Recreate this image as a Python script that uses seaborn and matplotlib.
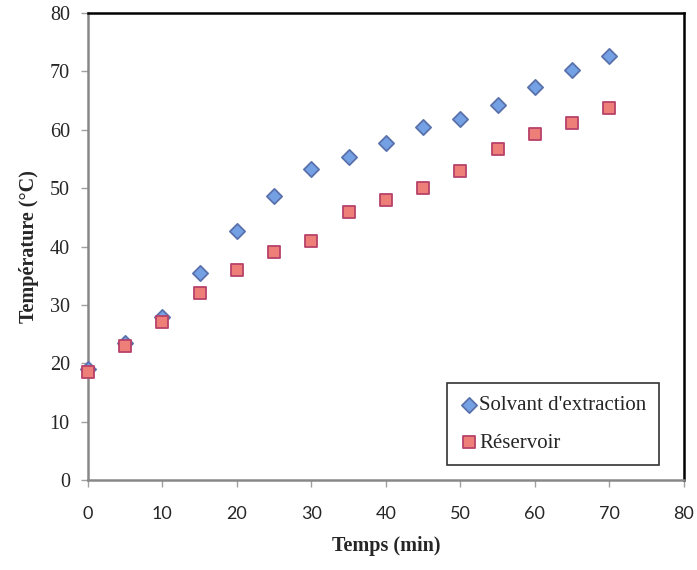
import pandas as pd
import matplotlib.pyplot as plt
import seaborn as sns

# ---------------------------- DATA ----------------------------
temps = [0, 5, 10, 15, 20, 25, 30, 35, 40, 45, 50, 55, 60, 65, 70]
solvant = [19.0, 23.5, 28.0, 35.5, 42.6, 48.6, 53.2, 55.3, 57.8, 60.4, 61.9, 64.3, 67.4, 70.2, 72.6]
reservoir = [18.5, 23.0, 27.0, 32.0, 36.0, 39.0, 41.0, 46.0, 48.0, 50.0, 53.0, 56.7, 59.2, 61.2, 63.7]
series_names = ["Solvant d'extraction", "Réservoir"]
x_ticks = [0, 10, 20, 30, 40, 50, 60, 70, 80]
y_ticks = [0, 10, 20, 30, 40, 50, 60, 70, 80]

df = pd.DataFrame({
    'Temps': temps * 2,
    'Temp': solvant + reservoir,
    'Serie': [series_names[0]] * len(temps) + [series_names[1]] * len(temps),
})

# ---------------------------- PLOT ----------------------------
sns.set_style('white')
plt.rcParams['font.family'] = ['Liberation Serif', 'DejaVu Serif']

fig, ax = plt.subplots(figsize=(6.97, 5.70), dpi=100)
fig.subplots_adjust(left=0.126, right=0.981, bottom=0.158, top=0.977)

palette = {series_names[0]: '#74a0e4', series_names[1]: '#ee7f78'}
markers = {series_names[0]: 'D', series_names[1]: 's'}

for name, edge, size in [(series_names[0], '#5a72ab', 60), (series_names[1], '#b8416a', 80)]:
    sub = df[df['Serie'] == name]
    sns.scatterplot(data=sub, x='Temps', y='Temp', color=palette[name],
                    marker=markers[name], s=size, edgecolor=edge, linewidth=1.3,
                    ax=ax, label=name, zorder=3, clip_on=False)

ax.set_xlim(0, 80)
ax.set_ylim(0, 80)
ax.set_xticks(x_ticks)
ax.set_yticks(y_ticks)
ax.set_xticklabels([str(t) for t in x_ticks])
ax.set_yticklabels([str(t) for t in y_ticks])

ax.tick_params(axis='x', direction='out', length=5, width=1, color='#a0a0a0', pad=14, bottom=True)
ax.tick_params(axis='y', direction='out', length=5, width=1, color='#a0a0a0', pad=8, left=True)

# x ticks look like a sans font, y ticks serif
for lbl in ax.get_xticklabels():
    lbl.set_fontfamily('Lato')
    lbl.set_fontsize(13)
for lbl in ax.get_yticklabels():
    lbl.set_fontsize(14.5)

for side in ['left', 'bottom']:
    ax.spines[side].set_color('#888888')
    ax.spines[side].set_linewidth(1.8)
for side in ['top', 'right']:
    ax.spines[side].set_color('black')
    ax.spines[side].set_linewidth(1.8)

ax.set_xlabel('Temps (min)', fontsize=14.5, fontweight='bold', labelpad=10)
ax.set_ylabel('Température (°C)', fontsize=14.5, fontweight='bold', labelpad=8)

leg = ax.legend(loc='lower right', bbox_to_anchor=(0.958, 0.032), borderaxespad=0,
                fontsize=15, frameon=True, fancybox=False, handletextpad=0.05,
                handlelength=0.9, borderpad=0.6, labelspacing=0.85)
leg.get_frame().set_edgecolor('black')
leg.get_frame().set_linewidth(1.2)

fig.savefig('out.png', dpi=100)
